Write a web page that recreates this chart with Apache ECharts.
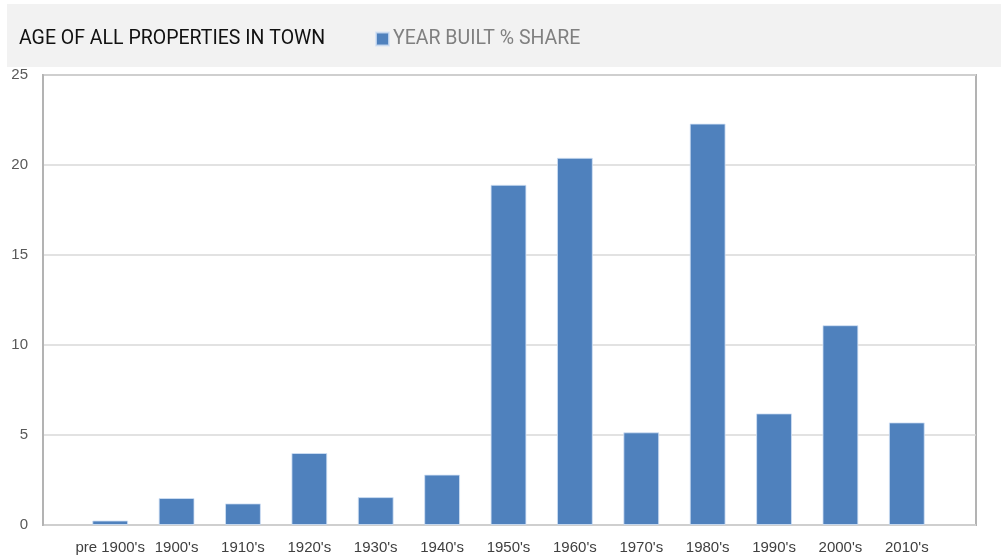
<!DOCTYPE html>
<html>
<head>
<meta charset="utf-8">
<script src="https://cdn.jsdelivr.net/npm/echarts@6/dist/echarts.min.js"></script>
<style>
html,body{margin:0;padding:0;background:#fff;}
#c{width:1001px;height:559px;}
</style>
</head>
<body>
<div id="c"></div>
<script>
const categories = ["pre 1900's","1900's","1910's","1920's","1930's","1940's","1950's","1960's","1970's","1980's","1990's","2000's","2010's"];
const shareValues = [0.25, 1.5, 1.2, 4.0, 1.55, 2.8, 18.9, 20.4, 5.15, 22.3, 6.2, 11.1, 5.7];
const yTicks = [0, 5, 10, 15, 20, 25];
const seriesName = 'YEAR BUILT % SHARE';

const yMin = yTicks[0], yMax = yTicks[yTicks.length - 1], yStep = yTicks[1] - yTicks[0];

const chart = echarts.init(document.getElementById('c'), null, {renderer: 'canvas'});
chart.setOption({
  animation: false,
  backgroundColor: '#ffffff',
  graphic: [{
    type: 'rect', z: -10, silent: true,
    shape: {x: 7, y: 4, width: 994, height: 63},
    style: {fill: '#f2f2f2'}
  }],
  title: {
    text: 'AGE OF ALL PROPERTIES IN TOWN',
    left: 19, top: 29, padding: 0,
    textStyle: {fontFamily: 'Roboto', fontWeight: 'normal', fontSize: 19.5, color: '#111111'}
  },
  legend: {
    left: 375, top: 29, padding: 0,
    icon: 'rect', itemWidth: 13, itemHeight: 13, itemGap: 6,
    textStyle: {fontFamily: 'Roboto', fontSize: 19.5, color: '#808080', padding: [0,0,0,-1]},
    data: [seriesName]
  },
  grid: [
    {left: 43, right: 25, top: 75, bottom: 34,
     show: true, borderColor: '#b3b3b3', borderWidth: 2, backgroundColor: 'transparent'},
    {left: 77, right: 61, top: 75, bottom: 34}
  ],
  xAxis: [
    {type: 'value', gridIndex: 0, show: false, min: 0, max: 1},
    {
      type: 'category', gridIndex: 1,
      data: categories,
      axisLine: {show: false},
      axisTick: {show: false},
      axisLabel: {color: '#404040', fontFamily: 'Liberation Sans', fontSize: 15, margin: 15, interval: 0}
    }
  ],
  yAxis: [
    {
      type: 'value', gridIndex: 0,
      min: yMin, max: yMax, interval: yStep,
      axisLine: {show: true, lineStyle: {color: '#b3b3b3', width: 2}},
      axisTick: {show: false},
      axisLabel: {color: '#595959', fontFamily: 'Liberation Sans', fontSize: 15, margin: 15, verticalAlign: 'middle', padding: [9, 0, 0, 0]},
      splitLine: {show: true, lineStyle: {color: '#d9d9d9', width: 1.5}}
    },
    {type: 'value', gridIndex: 1, show: false, min: yMin, max: yMax, interval: yStep, splitLine: {show: false}}
  ],
  series: [{
    name: seriesName,
    type: 'bar',
    xAxisIndex: 1, yAxisIndex: 1,
    data: shareValues,
    barWidth: '54%',
    itemStyle: {color: '#4f81bd', borderColor: 'rgba(210,225,245,0.8)', borderWidth: 1}
  }]
});
</script>
</body>
</html>
